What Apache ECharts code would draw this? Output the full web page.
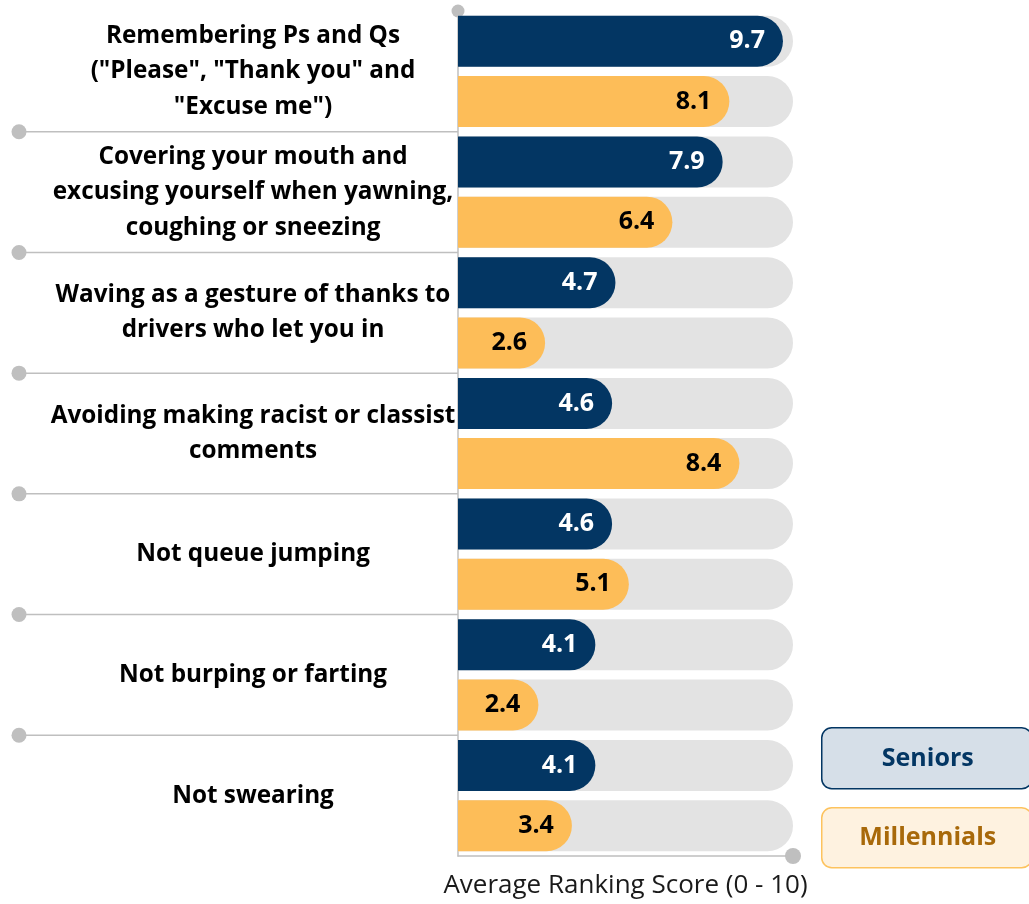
<!DOCTYPE html>
<html>
<head>
<meta charset="utf-8">
<script src="https://cdn.jsdelivr.net/npm/echarts@6/dist/echarts.min.js"></script>
<style>
html,body{margin:0;padding:0;background:#fff;}
#chart{width:1029px;height:904px;}
</style>
</head>
<body>
<div id="chart"></div>
<script>
const categories = [
  'Remembering Ps and Qs\n("Please", "Thank you" and\n"Excuse me")',
  'Covering your mouth and\nexcusing yourself when yawning,\ncoughing or sneezing',
  'Waving as a gesture of thanks to\ndrivers who let you in',
  'Avoiding making racist or classist\ncomments',
  'Not queue jumping',
  'Not burping or farting',
  'Not swearing'
];
const seniors = [9.7, 7.9, 4.7, 4.6, 4.6, 4.1, 4.1];
const millennials = [8.1, 6.4, 2.6, 8.4, 5.1, 2.4, 3.4];
const seriesNames = ['Seniors', 'Millennials'];
const axisMin = 0;
const axisMax = 10;
const axisTitle = 'Average Ranking Score (0 - 10)';
const separatorIdx = [1, 2, 3, 4, 5, 6];

const FONT = '"Open Sans"';
const NAVY = '#033663';
const GOLD = '#fdbd58';
const GRAY = '#bfbfbf';

const chart = echarts.init(document.getElementById('chart'), null, {renderer: 'canvas'});

const barCommon = {
  type: 'bar',
  barWidth: 51,
  barGap: '18%',
  showBackground: true,
  backgroundStyle: {color: '#e3e3e3', borderRadius: [0, 26, 26, 0]},
  silent: true
};

chart.setOption({
  animation: false,
  textStyle: {fontFamily: FONT},
  grid: {left: 458, right: 236, top: 11, bottom: 47},
  xAxis: {
    type: 'value', min: axisMin, max: axisMax,
    splitLine: {show: false},
    axisLabel: {show: false},
    axisTick: {show: false},
    axisLine: {show: true, lineStyle: {color: GRAY, width: 1.5}, symbol: ['none', 'circle'], symbolSize: [16, 16]},
    name: axisTitle, nameLocation: 'middle', nameGap: 17,
    nameTextStyle: {fontSize: 26, color: '#1a1a1a', fontFamily: FONT}
  },
  yAxis: {
    type: 'category', data: categories, inverse: true,
    axisTick: {show: false},
    axisLine: {show: true, lineStyle: {color: GRAY, width: 1.5}, symbol: ['none', 'circle'], symbolSize: [13, 13]},
    axisLabel: {
      fontSize: 24.3, fontWeight: 'bold', color: '#000', fontFamily: FONT,
      lineHeight: 35.5, align: 'center', margin: 205, padding: [13, 0, 0, 0]
    }
  },
  series: [
    Object.assign({}, barCommon, {
      name: seriesNames[0], data: seniors,
      itemStyle: {color: NAVY, borderRadius: [0, 26, 26, 0]},
      label: {show: true, position: 'insideRight', distance: 18, color: '#fff', fontSize: 25, fontWeight: 'bold', fontFamily: FONT}
    }),
    Object.assign({}, barCommon, {
      name: seriesNames[1], data: millennials,
      itemStyle: {color: GOLD, borderRadius: [0, 26, 26, 0]},
      label: {show: true, position: 'insideRight', distance: 18, color: '#000', fontSize: 25, fontWeight: 'bold', fontFamily: FONT}
    }),
    {
      type: 'custom', clip: false, silent: true, z: 1,
      data: separatorIdx.map(i => [axisMin, i]),
      encode: {x: 0, y: 1},
      renderItem: function (params, api) {
        const c = api.coord([api.value(0), api.value(1)]);
        const band = api.size([0, 1])[1];
        const y = c[1] - band / 2;
        return {
          type: 'group',
          children: [
            {type: 'line', shape: {x1: 19, y1: y, x2: c[0], y2: y}, style: {stroke: GRAY, lineWidth: 1.5}},
            {type: 'circle', shape: {cx: 19, cy: y, r: 7.5}, style: {fill: GRAY}}
          ]
        };
      }
    }
  ],
  graphic: [
    {
      type: 'group', left: 821, top: 727,
      children: [
        {type: 'rect', shape: {x: 0, y: 0, width: 210, height: 61, r: 10}, style: {fill: '#d6dfe8', stroke: NAVY, lineWidth: 1.5}},
        {type: 'text', x: 106, y: 31, style: {text: seriesNames[0], fill: NAVY, font: 'bold 25px ' + FONT, textAlign: 'center', textVerticalAlign: 'middle'}}
      ]
    },
    {
      type: 'group', left: 821, top: 807,
      children: [
        {type: 'rect', shape: {x: 0, y: 0, width: 210, height: 60, r: 10}, style: {fill: '#fef2e0', stroke: '#fdc35e', lineWidth: 1.5}},
        {type: 'text', x: 106, y: 30, style: {text: seriesNames[1], fill: '#a8690a', font: 'bold 25px ' + FONT, textAlign: 'center', textVerticalAlign: 'middle'}}
      ]
    }
  ]
});
</script>
</body>
</html>
